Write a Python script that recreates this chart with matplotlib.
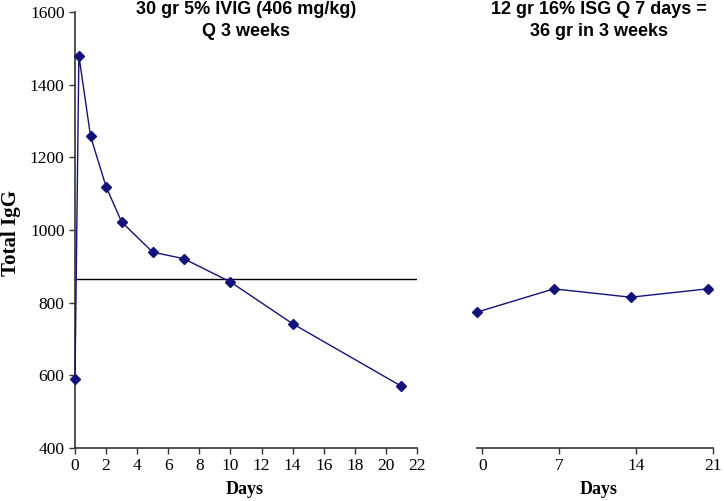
import matplotlib
matplotlib.use("Agg")
import matplotlib.pyplot as plt

# IVIG every 3 weeks
ivig_days = [0, 0.25, 1, 2, 3, 5, 7, 10, 14, 21]
ivig_igg = [590, 1480, 1258, 1119, 1022, 939, 921, 857, 742, 570]
trough_level = 865

# SCIG weekly
isg_days = [0, 7, 14, 21]
isg_igg = [774, 838, 815, 838]

navy = "#14127a"
serif = "Liberation Serif"
sans = "Liberation Sans"

fig = plt.figure(figsize=(7.24, 5.01), dpi=100)

# left panel
ax1 = fig.add_axes([75 / 724, 53 / 501, 342 / 724, 436 / 501])
ax1.plot(ivig_days, ivig_igg, color=navy, lw=1.0, marker="D", ms=5,
         mfc=navy, mec=navy, clip_on=False, zorder=3)
ax1.hlines(trough_level, 0, 22, color="black", lw=1.0)
ax1.set_xlim(0, 22)
ax1.set_ylim(400, 1600)
ax1.set_xticks(range(0, 23, 2))
ax1.set_yticks(range(400, 1601, 200))
for s in ["top", "right"]:
    ax1.spines[s].set_visible(False)
for s in ["left", "bottom"]:
    ax1.spines[s].set_color("#333333")
    ax1.spines[s].set_linewidth(1.2)
ax1.tick_params(direction="out", length=4, width=1, color="#333333",
                labelsize=12.5)
for lab in ax1.get_xticklabels() + ax1.get_yticklabels():
    lab.set_fontfamily(serif)

# right panel
ax2 = fig.add_axes([477 / 724, 53 / 501, 236 / 724, 436 / 501])
ax2.plot(isg_days, isg_igg, color=navy, lw=1.0, marker="D", ms=5,
         mfc=navy, mec=navy, clip_on=False, zorder=3)
ax2.set_xlim(0, 21.5)
ax2.set_ylim(400, 1600)
ax2.set_xticks([d + 0.5 for d in isg_days])
ax2.set_xticklabels([str(d) for d in isg_days])
ax2.set_yticks([])
for s in ["top", "right", "left"]:
    ax2.spines[s].set_visible(False)
ax2.spines["bottom"].set_color("#333333")
ax2.spines["bottom"].set_linewidth(1.2)
ax2.tick_params(direction="out", length=4, width=1, color="#333333",
                labelsize=12.5)
for lab in ax2.get_xticklabels():
    lab.set_fontfamily(serif)

# titles and labels
fig.text(246 / 724, 1 - 10 / 501, "30 gr 5% IVIG (406 mg/kg)", ha="center",
         va="center", fontsize=13, fontweight="bold", family=sans)
fig.text(246 / 724, 1 - 32 / 501, "Q 3 weeks", ha="center",
         va="center", fontsize=13, fontweight="bold", family=sans)
fig.text(599 / 724, 1 - 10 / 501, "12 gr 16% ISG Q 7 days =", ha="center",
         va="center", fontsize=13, fontweight="bold", family=sans)
fig.text(599 / 724, 1 - 32 / 501, "36 gr in 3 weeks", ha="center",
         va="center", fontsize=13, fontweight="bold", family=sans)

fig.text(245 / 724, 1 - 490 / 501, "Days", ha="center", va="center",
         fontsize=13, fontweight="bold", family=serif)
fig.text(599 / 724, 1 - 490 / 501, "Days", ha="center", va="center",
         fontsize=13, fontweight="bold", family=serif)
fig.text(11 / 724, 1 - 233 / 501, "Total IgG", ha="center", va="center",
         rotation=90, fontsize=15, fontweight="bold", family=serif)

fig.savefig("out.png", dpi=100)
